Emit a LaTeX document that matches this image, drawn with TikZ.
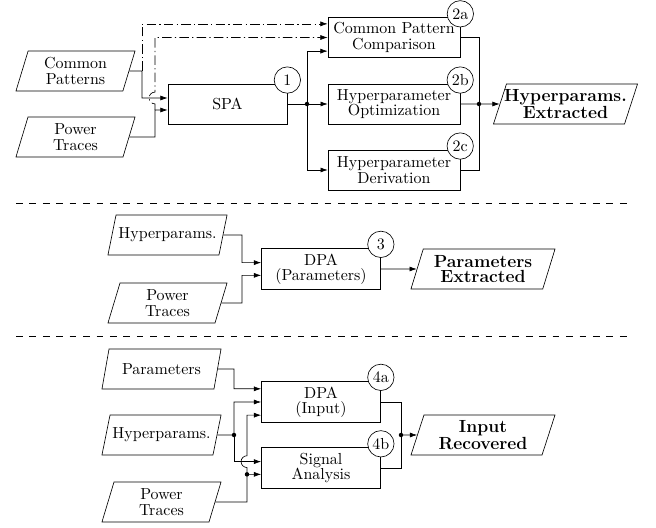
\documentclass[tikz,border=0pt]{standalone}
\usepackage{amsmath}
\usetikzlibrary{shapes.geometric,arrows.meta,calc}

\tikzset{
  proc/.style={draw, rectangle, minimum width=2.62cm, minimum height=0.88cm, align=center, font={\linespread{0.8}\selectfont}},
  wideproc/.style={proc, minimum width=2.9cm},
  datain/.style={draw, trapezium, trapezium left angle=72, trapezium right angle=108, trapezium stretches body, minimum width=2.62cm, minimum height=0.88cm, inner xsep=-4pt, align=center, font={\linespread{0.8}\selectfont}},
  dataout/.style={datain, minimum width=3.17cm, font={\fontsize{11}{9.4}\selectfont\bfseries}},
  tag/.style={draw, circle, fill=white, inner sep=0pt, minimum size=0.58cm},
  arr/.style={-{Latex[length=1.6mm,width=1.1mm]}},
  pattline/.style={dash pattern=on 6pt off 2pt on 0.8pt off 2pt},
  sepline/.style={dash pattern=on 4.2pt off 4.2pt}
}

\begin{document}
\begin{tikzpicture}[x=0.022cm, y=-0.022cm]
\useasboundingbox (0,0) rectangle (656,528);

\node[datain] (cp) at (75.5,71) {Common\\Patterns};
\node[datain] (pt1) at (75.5,137) {Power\\Traces};
\node[proc] (spa) at (227.5,104) {SPA};
\node[wideproc] (cmp) at (394,37.5) {Common Pattern\\Comparison};
\node[wideproc] (opt) at (394,104) {Hyperparameter\\Optimization};
\node[wideproc] (der) at (394,170) {Hyperparameter\\Derivation};
\node[dataout] (hpx) at (565.5,104) {Hyperparams.\\Extracted};

\node[datain] (hp2) at (167.5,235) {Hyperparams.};
\node[datain] (pt2) at (167.5,303) {Power\\Traces};
\node[proc] (dpa) at (321,269) {DPA\\(Parameters)};
\node[dataout] (pex) at (483,269) {Parameters\\Extracted};

\node[datain] (par) at (161.5,369) {Parameters};
\node[datain] (hp3) at (161.5,435) {Hyperparams.};
\node[datain] (pt3) at (161.5,502) {Power\\Traces};
\node[proc] (dpi) at (321,402) {DPA\\(Input)};
\node[proc] (sig) at (321,468) {Signal\\Analysis};
\node[dataout] (inr) at (483,435) {Input\\Recovered};

\coordinate (spa-in1) at ([yshift=0.132cm]spa.west);
\coordinate (spa-in2) at ([yshift=-0.132cm]spa.west);
\coordinate (cmp-in1) at ([yshift=0.3cm]cmp.west);
\coordinate (cmp-in3) at ([yshift=-0.3cm]cmp.west);
\coordinate (dpa-in1) at ([yshift=0.14cm]dpa.west);
\coordinate (dpa-in2) at ([yshift=-0.14cm]dpa.west);
\coordinate (dpi-in1) at ([yshift=0.29cm]dpi.west);
\coordinate (dpi-in3) at ([yshift=-0.29cm]dpi.west);
\coordinate (sig-in1) at ([yshift=0.14cm]sig.west);
\coordinate (sig-in2) at ([yshift=-0.14cm]sig.west);

\coordinate (jcp) at (142,71);
\coordinate (jpt) at (155,137);
\coordinate (jspa) at (307,104);
\coordinate (jout) at (479,104);
\coordinate (jhp2) at (242,235);
\coordinate (jpt2) at (242,303);
\coordinate (jpar) at (234,369);
\coordinate (jhp3) at (234,435);
\coordinate (jpt3) at (247,502);
\coordinate (jsig) at (jpt3 |- sig-in2);
\coordinate (jin) at (401,435);

\draw[arr] (cp.east) -- (jcp) |- (spa-in1);
\draw[arr, pattline] (jcp) |- (cmp-in1);
\draw[arr] (pt1.east) -- (jpt) |- (spa-in2);
\draw[arr, pattline] (jpt |- spa-in2) -- ($(jpt |- spa-in1)+(0,-0.13cm)$) arc[start angle=270, end angle=90, radius=0.13cm] |- (cmp.west);
\draw (spa.east) -- (jspa);
\draw[arr] (jspa) |- (cmp-in3);
\draw[arr] (jspa) -- (opt.west);
\draw[arr] (jspa) |- (der.west);
\draw (cmp.east) -| (jout);
\draw (der.east) -| (jout);
\draw[arr] (opt.east) -- (hpx.west);
\fill (jspa) circle (1.4pt);
\fill (jout) circle (1.4pt);

\draw[arr] (hp2.east) -- (jhp2) |- (dpa-in1);
\draw[arr] (pt2.east) -- (jpt2) |- (dpa-in2);
\draw[arr] (dpa.east) -- (pex.west);

\draw[arr] (par.east) -- (jpar) |- (dpi-in1);
\draw[arr] (hp3.east) -- (jhp3) |- (dpi.west);
\draw[arr] (jhp3) |- (sig-in1);
\draw[arr] (pt3.east) -- (jpt3) |- (sig-in2);
\draw[arr] (jsig) -- ($(jpt3 |- sig-in1)+(0,-0.13cm)$) arc[start angle=270, end angle=90, radius=0.13cm] |- (dpi-in3);
\draw (dpi.east) -| (jin);
\draw (sig.east) -| (jin);
\draw[arr] (jin) -- (inr.west);
\fill (jhp3) circle (1.4pt);
\fill (jsig) circle (1.4pt);
\fill (jin) circle (1.4pt);

\node[tag] (t1) at ([yshift=0.08cm]spa.north east) {1};
\node[tag] (t2a) at ([yshift=0.07cm]cmp.north east) {2a};
\node[tag] (t2b) at ([yshift=0.08cm]opt.north east) {2b};
\node[tag] (t2c) at ([yshift=0.08cm]der.north east) {2c};
\node[tag] (t3) at ([yshift=0.08cm]dpa.north east) {3};
\node[tag] (t4a) at ([yshift=0.08cm]dpi.north east) {4a};
\node[tag] (t4b) at ([yshift=0.08cm]sig.north east) {4b};

\draw[sepline] (16,203) -- (632,203);
\draw[sepline] (16,336) -- (632,336);
\end{tikzpicture}
\end{document}
